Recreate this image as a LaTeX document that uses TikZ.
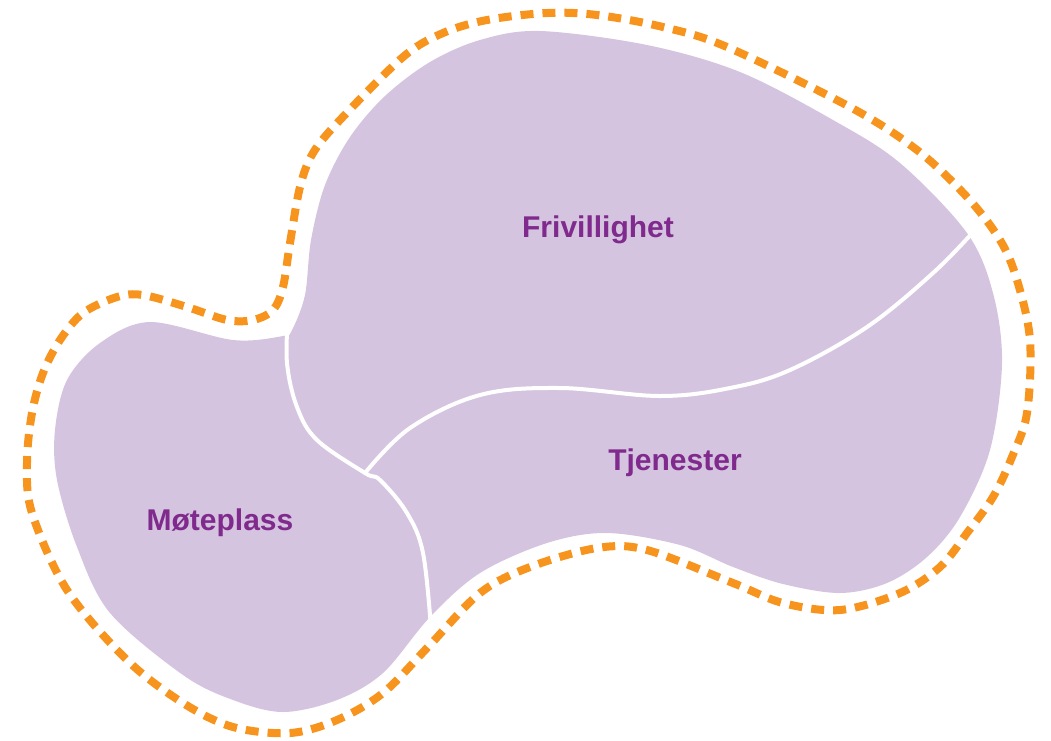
\documentclass[tikz,border=0pt]{standalone}
\usepackage{fontspec}
\setmainfont{Liberation Sans}
\usepackage{xcolor}
\usepackage{tikz}
\usetikzlibrary{positioning}

\definecolor{blobfill}{HTML}{D5C4E0}
\definecolor{blobtext}{HTML}{7F2A8C}
\definecolor{dashorange}{HTML}{F7941D}

\begin{document}
\begin{tikzpicture}[
  x=1pt,y=-1pt,
  region/.style={fill=blobfill,draw=none},
  divider/.style={draw=white,line width=4pt,line cap=round},
  border/.style={draw=dashorange,line width=8pt,dash pattern=on 13pt off 9pt},
  label/.style={text=blobtext,font=\fontsize{30}{36}\selectfont\bfseries,anchor=base}]
\useasboundingbox (0,0) rectangle (1051,740);
% purple area
\path[region] plot[smooth cycle,tension=0.55] coordinates {
  (292,330) (305,295) (311,240) (325,185) (350,137) (385,96) (430,62)
  (480,40) (540,31) (647,45) (740,72) (833,120) (900,163) (967,233)
  (993,293) (1002,363) (990,450) (960,517) (927,557) (887,583)
  (840,593) (783,584) (733,567) (680,545) (607,533) (547,543)
  (480,573) (430,617) (383,673) (337,700) (283,712) (233,700)
  (183,675) (110,613) (77,547) (57,480) (55,430) (67,380) (100,343)
  (150,322) (233,340) (283,336)};
% white dividers
\coordinate (meet) at (365,473);
\coordinate (topend) at (975,230);
\coordinate (notch) at (288,316);
\coordinate (bottomend) at (431,628);
\draw[divider] plot[smooth,tension=0.6] coordinates {
  (topend) (933,273) (867,327) (790,370) (730,388) (660,396)
  (560,388) (480,395) (410,428) (meet)};
\draw[divider] plot[smooth,tension=0.6] coordinates {
  (notch) (287,363) (297,407) (317,440) (meet) (380,480)
  (407,513) (423,553) (bottomend)};
% dashed outline
\draw[border] plot[smooth cycle,tension=0.55] coordinates {
  (283,287) (290,243) (300,187) (313,153) (340,120) (403,57) (443,33)
  (487,20) (547,13) (597,15) (663,27) (727,47) (850,107) (917,150)
  (967,197) (1000,240) (1017,280) (1030,340) (1027,413) (1012,457)
  (993,497) (967,533) (940,567) (900,593) (840,610) (783,603)
  (733,583) (647,550) (597,548) (530,567) (480,593) (428,647)
  (383,693) (337,720) (290,733) (233,727) (183,703) (127,660)
  (67,590) (32,513) (27,463) (32,413) (43,373) (60,340) (83,313)
  (117,297) (143,295) (187,307) (227,320) (253,320) (273,310)};
% labels
\node[label] (frivillighet) at (598,237) {Frivillighet};
\node[label] (tjenester) at (675,470) {Tjenester};
\node[label] (moteplass) at (220,530) {Møteplass};
\end{tikzpicture}
\end{document}
